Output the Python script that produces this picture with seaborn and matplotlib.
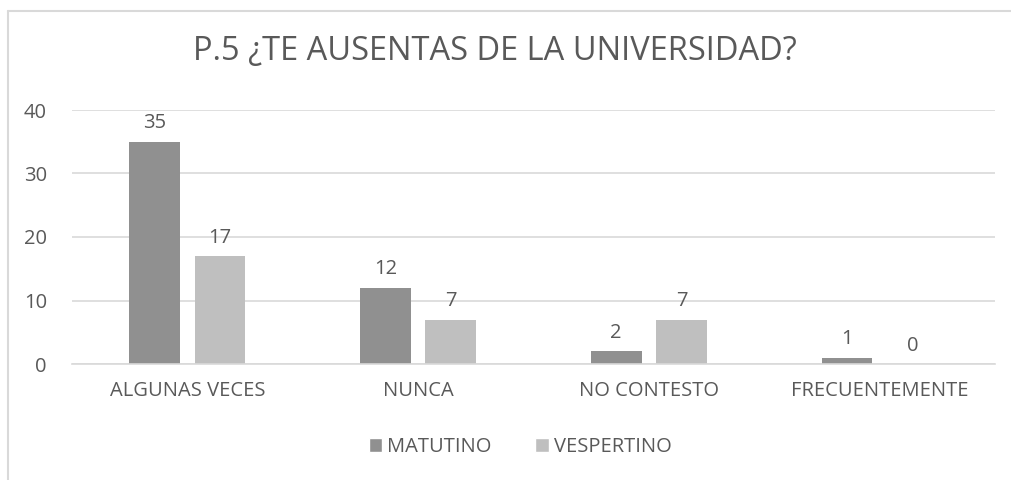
import matplotlib
matplotlib.use("Agg")
import matplotlib.pyplot as plt
import seaborn as sns
import pandas as pd
from matplotlib.lines import Line2D
from matplotlib.patches import Patch

categories = ["ALGUNAS VECES", "NUNCA", "NO CONTESTO", "FRECUENTEMENTE"]
matutino = [35, 12, 2, 1]
vespertino = [17, 7, 7, 0]
series_names = ["MATUTINO", "VESPERTINO"]
title = "P.5 ¿TE AUSENTAS DE LA UNIVERSIDAD?"

df = pd.DataFrame({
    "cat": categories * 2,
    "val": matutino + vespertino,
    "serie": [series_names[0]] * 4 + [series_names[1]] * 4,
})

sns.set_theme(style="white")
plt.rcParams["font.family"] = ["Open Sans", "DejaVu Sans"]
TXT = "#595959"
colors = ["#909090", "#BFBFBF"]

W, H = 1011, 480
fig = plt.figure(figsize=(W / 100, H / 100), dpi=100)
ax = fig.add_axes([72 / W, (H - 364) / H, (995 - 72) / W, (364 - 110) / H])

sns.barplot(data=df, x="cat", y="val", hue="serie", palette=colors,
            width=0.566, gap=0.22, ax=ax, legend=False, saturation=1,
            linewidth=0)

ax.set_xlim(-0.5, 3.5)
ax.set_ylim(0, 40)
ax.set_yticks([0, 10, 20, 30, 40])
ax.yaxis.grid(True, color="#D9D9D9", linewidth=1.2)
ax.set_axisbelow(True)
for s in ["top", "right", "left"]:
    ax.spines[s].set_visible(False)
ax.spines["bottom"].set_color("#D9D9D9")
ax.spines["bottom"].set_linewidth(1.2)
ax.set_xlabel("")
ax.set_ylabel("")
ax.tick_params(axis="both", length=0, colors=TXT, labelsize=14.5)
ax.tick_params(axis="x", pad=12)
ax.tick_params(axis="y", pad=18)

for c in ax.containers:
    ax.bar_label(c, padding=6, color=TXT, fontsize=14.5)

fig.text(495 / W, 1 - 51 / H, title, ha="center", va="center",
         fontsize=23.5, color=TXT)

handles = [Patch(facecolor=colors[i], label=series_names[i]) for i in range(2)]
fig.legend(handles=handles, loc="center", bbox_to_anchor=(520 / W, 1 - 447 / H),
           ncol=2, frameon=False, fontsize=14.5, labelcolor=TXT,
           handlelength=0.65, handleheight=0.65, handletextpad=0.25, columnspacing=2.2)

fig.add_artist(Line2D([8 / W, 8 / W], [0, 1 - 11 / H], color="#D9D9D9", lw=1.5))
fig.add_artist(Line2D([8 / W, 1], [1 - 11 / H, 1 - 11 / H], color="#D9D9D9", lw=1.5))

fig.savefig("out.png", dpi=100)
